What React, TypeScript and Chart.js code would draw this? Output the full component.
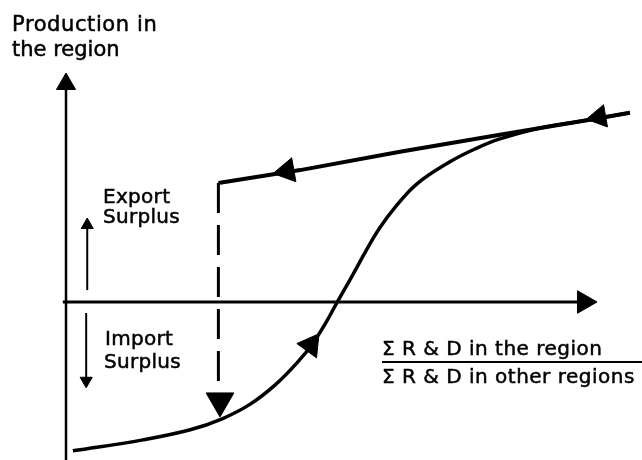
import React, { useEffect, useRef } from "react";
import { Chart, registerables } from "chart.js";

Chart.register(...registerables);

// S-shaped production curve (schematic units; origin = axes crossing)
const CURVE_X = [0.13, 1.45, 2.34, 2.94, 3.47, 3.94, 4.35, 4.65, 4.9, 5.1, 5.39, 5.67, 5.91, 6.2, 6.61, 7.23, 7.7, 8.17, 8.93, 9.81, 10.62];
const CURVE_Y = [-3.25, -3.01, -2.79, -2.55, -2.23, -1.81, -1.33, -0.9, -0.44, -0.02, 0.57, 1.16, 1.62, 2.07, 2.58, 3.06, 3.34, 3.56, 3.8, 3.97, 4.13];

// Return path (straight line back to the left)
const PATH_X = [10.62, 9.81, 8.17, 6.29, 4.41, 2.87];
const PATH_Y = [4.13, 3.97, 3.65, 3.28, 2.88, 2.6];

// Dashed drop
const DROP_X = [2.87, 2.87];
const DROP_Y = [2.6, -2.03];

// Axes
const YAXIS_X = [0, 0];
const YAXIS_Y = [-3.45, 4.76];
const XAXIS_X = [-0.06, 9.755];
const XAXIS_Y = [0, 0];

// Small indicator arrows (shafts)
const EXPORT_X = [0.4, 0.4];
const EXPORT_Y = [0.26, 1.62];
const IMPORT_X = [0.38, 0.38];
const IMPORT_Y = [-0.24, -1.68];

// Arrowheads (positions)
const HEAD_X = [0, 9.755, 10.04, 4.16, 2.9, 4.61, 0.4, 0.38];
const HEAD_Y = [4.76, 0, 4.04, 2.86, -2.16, -0.94, 1.68, -1.72];
// Arrowhead styling (rotation in degrees, radius in px)
const HEAD_ROT = [0, 90, 260, 260, 180, 36, 0, 180];
const HEAD_R = [11, 13, 13, 14, 16, 14, 7, 7];

const LABELS = [
  { text: "Production in", x: 12, y: 31, size: 21, spacing: 0.6 },
  { text: "the region", x: 12, y: 56, size: 21, spacing: 0 },
  { text: "Export", x: 103, y: 203, size: 20, spacing: 0.3 },
  { text: "Surplus", x: 103, y: 223, size: 20, spacing: 0.3 },
  { text: "Import", x: 105, y: 345, size: 20, spacing: 0.3 },
  { text: "Surplus", x: 104, y: 368, size: 20, spacing: 0.3 },
  { text: "Σ R & D in the region", x: 382, y: 355, size: 20, spacing: 0.5 },
  { text: "Σ R & D in other regions", x: 382, y: 383, size: 20, spacing: 0.5 },
];

const zip = (xs: number[], ys: number[]) => xs.map((x, i) => ({ x, y: ys[i] }));

const line = (xs: number[], ys: number[], width: number, extra: any = {}) => ({
  data: zip(xs, ys),
  showLine: true,
  borderColor: "#000",
  borderWidth: width,
  pointRadius: 0,
  fill: false,
  clip: false as any,
  borderCapStyle: "butt",
  ...extra,
});

const textPlugin = {
  id: "schematicText",
  afterDatasetsDraw(chart: any) {
    const ctx = chart.ctx as CanvasRenderingContext2D;
    ctx.save();
    ctx.fillStyle = "#000";
    ctx.strokeStyle = "#000";
    ctx.lineWidth = 0.5;
    ctx.textBaseline = "alphabetic";
    ctx.textAlign = "left";
    for (const l of LABELS) {
      ctx.font = `${l.size}px "DejaVu Sans"`;
      (ctx as any).letterSpacing = `${l.spacing}px`;
      ctx.fillText(l.text, l.x, l.y);
      ctx.strokeText(l.text, l.x, l.y);
    }
    (ctx as any).letterSpacing = "0px";
    // fraction bar
    ctx.lineWidth = 2;
    ctx.beginPath();
    ctx.moveTo(382, 362);
    ctx.lineTo(642, 362);
    ctx.stroke();
    ctx.restore();
  },
};

export default function App() {
  const ref = useRef<HTMLCanvasElement | null>(null);

  useEffect(() => {
    document.body.style.margin = "0";
    if (!ref.current) return;
    const chart = new Chart(ref.current, {
      type: "scatter",
      data: {
        datasets: [
          line(YAXIS_X, YAXIS_Y, 2.5) as any,
          line(XAXIS_X, XAXIS_Y, 3) as any,
          line(CURVE_X, CURVE_Y, 3.5, { tension: 0.4 }) as any,
          line(PATH_X, PATH_Y, 4, { borderJoinStyle: "miter" }) as any,
          line(DROP_X, DROP_Y, 3, { borderDash: [30, 12] }) as any,
          line(EXPORT_X, EXPORT_Y, 2) as any,
          line(IMPORT_X, IMPORT_Y, 2) as any,
          {
            data: zip(HEAD_X, HEAD_Y),
            showLine: false,
            pointStyle: "triangle",
            pointRadius: HEAD_R,
            pointRotation: HEAD_ROT,
            pointBackgroundColor: "#000",
            pointBorderColor: "#000",
            pointBorderWidth: 1,
            clip: false,
          } as any,
        ],
      },
      options: {
        responsive: false,
        animation: false,
        events: [],
        layout: { padding: 0, autoPadding: false },
        plugins: { legend: { display: false }, tooltip: { enabled: false } },
        scales: {
          x: { type: "linear", display: false, min: -66 / 53.1, max: 576 / 53.1 },
          y: { type: "linear", display: false, min: -158 / 45.8, max: 302 / 45.8 },
        },
      },
      plugins: [textPlugin],
    });
    return () => chart.destroy();
  }, []);

  return (
    <div style={{ width: 642, height: 460, background: "#fff" }}>
      <canvas ref={ref} width={642} height={460} style={{ display: "block" }} />
    </div>
  );
}
